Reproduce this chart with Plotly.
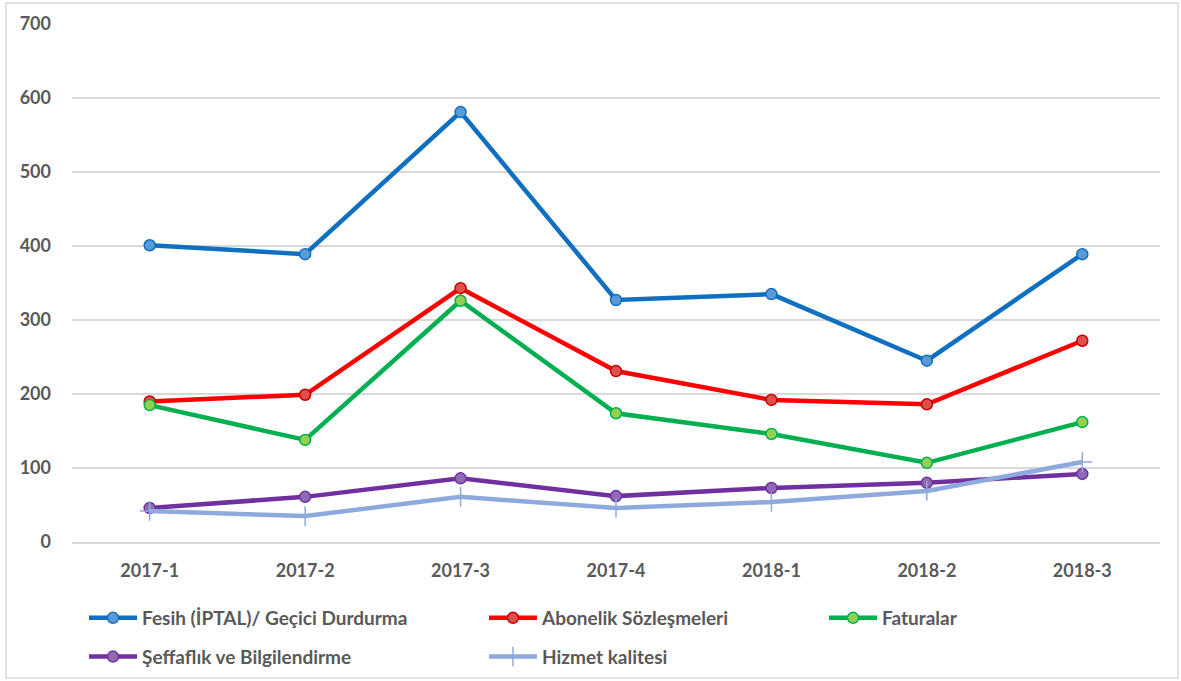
import plotly.graph_objects as go

quarters = ['2017-1', '2017-2', '2017-3', '2017-4', '2018-1', '2018-2', '2018-3']
fesih = [401, 389, 581, 327, 335, 245, 389]
abonelik = [190, 199, 343, 231, 192, 186, 272]
faturalar = [185, 138, 326, 174, 146, 107, 162]
seffaflik = [46, 61, 86, 62, 73, 80, 92]
hizmet = [42, 35, 61, 46, 54, 69, 108]

W, H = 1181, 681
L, R, T, B = 72, 21, 24, 139
pw, ph = W - L - R, H - T - B

fig = go.Figure()

def add_line(name, vals, col, mfill, leg, symbol='circle', msize=11, mline=None):
    fig.add_trace(go.Scatter(
        x=quarters, y=vals, name=name, mode='lines+markers',
        legend=leg, legendgroup=name,
        line=dict(color=col, width=4.5),
        marker=dict(symbol=symbol, size=msize, color=mfill,
                    line=dict(color=mline or col, width=1.5)),
    ))

add_line('Fesih (İPTAL)/ Geçici Durdurma', fesih, '#0F6FC0', '#5B9BD5', 'legend')
add_line('Abonelik Sözleşmeleri', abonelik, '#FF0000', '#E0504A', 'legend2', mline='#C00000')
add_line('Faturalar', faturalar, '#00B050', '#92D050', 'legend3')
add_line('Şeffaflık ve Bilgilendirme', seffaflik, '#7030A0', '#8F6BB5', 'legend')
add_line('Hizmet kalitesi', hizmet, '#8EA9DB', '#8EA9DB', 'legend2',
         symbol='cross-thin', msize=14, mline='#8EA9DB')

# outer border
fig.add_shape(type='rect', xref='paper', yref='paper',
              x0=(6 - L) / pw, x1=(W - 3 - L) / pw,
              y0=-(B - 3) / ph, y1=1 + (T - 3) / ph,
              line=dict(color='#D9D9D9', width=1.5), layer='below')

legfont = dict(family='Lato', size=19, color='#595959', weight='bold')
legy = -(599 - (H - B)) / ph

def leg(xpx):
    return dict(orientation='v', x=(xpx - L) / pw, y=legy, xanchor='left', yanchor='top',
                font=legfont, itemwidth=48, tracegroupgap=11, bgcolor='rgba(0,0,0,0)')

fig.update_layout(
    width=W, height=H,
    margin=dict(l=L, r=R, t=T, b=B, autoexpand=False),
    plot_bgcolor='white', paper_bgcolor='white',
    font=dict(family='Lato', size=18, color='#595959'),
    showlegend=True,
    legend=leg(84), legend2=leg(484), legend3=leg(824),
)
fig.update_xaxes(type='category', range=[-0.5, len(quarters) - 0.5],
                 showgrid=False, showline=True, linecolor='#D9D9D9',
                 linewidth=1.5, ticks='', tickfont=dict(size=18, weight='bold'),
                 ticklabelstandoff=12, automargin=False)
fig.update_yaxes(range=[0, 700], dtick=100, showgrid=True, gridcolor='#D9D9D9',
                 gridwidth=1.5, zeroline=False, showline=False,
                 tickfont=dict(size=18, weight='bold'), ticklabelstandoff=20,
                 automargin=False)

fig.write_html("out.html", config={'displayModeBar': False},
               post_script="document.body.style.margin='0';")
